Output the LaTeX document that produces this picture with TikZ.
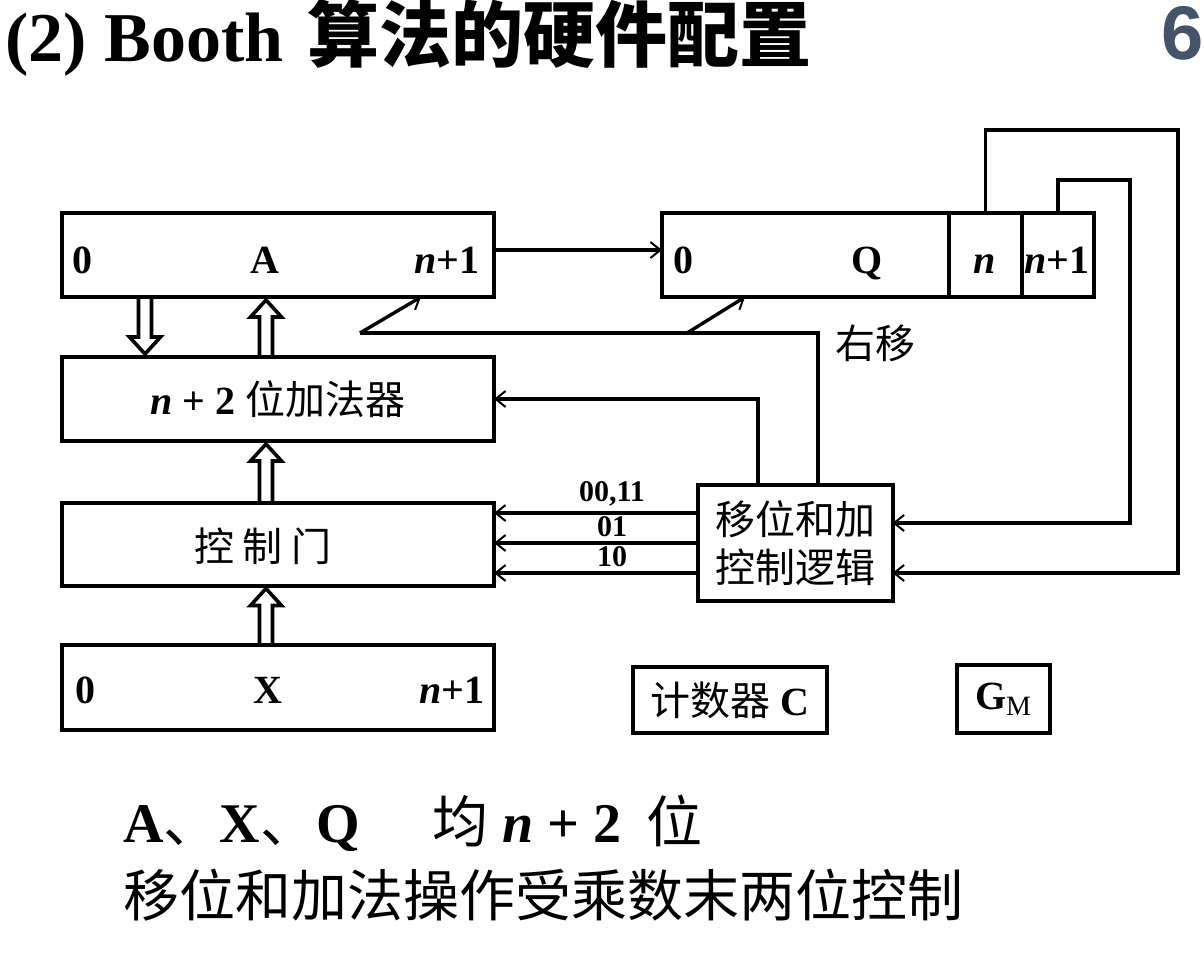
\documentclass[tikz,border=0pt]{standalone}
\usepackage{fontspec}
\setmainfont{Liberation Serif}
\newfontfamily\cjk{Noto Sans CJK SC}
\newfontfamily\slidenum{Liberation Sans}
\usetikzlibrary{arrows.meta,positioning,calc}
\definecolor{numblue}{RGB}{68,84,106}

\newcommand{\nn}{\textit{n}}
\newcommand{\zh}[1]{{\cjk\mdseries #1}}
% hollow bus arrow, vertical, from #1 to #2
\newcommand{\busarrow}[2]{%
  \draw[bus] let \p1=(#1), \p2=(#2), \n1={sign(\y2-\y1)} in
    (\x1-3.25pt,\y1) -- (\x1-3.25pt,{\y2-\n1*10pt}) -- (\x1-7.75pt,{\y2-\n1*10pt})
    -- (\x1,{\y2-\n1*1.5pt}) -- (\x1+7.75pt,{\y2-\n1*10pt}) -- (\x1+3.25pt,{\y2-\n1*10pt})
    -- (\x1+3.25pt,\y1);}

\begin{document}
\begin{tikzpicture}[x=0.5pt, y=-0.5pt,
  every node/.style={font=\fontsize{20}{24}\selectfont\bfseries, inner sep=0pt},
  reg/.style={draw, line width=2pt, inner sep=0pt, outer sep=0pt},
  conn/.style={line width=1.7pt, -{Straight Barb[length=5pt, width=8pt, line width=1pt]}},
  wire/.style={line width=1.7pt},
  bus/.style={line width=1.8pt, line join=miter},
  lab/.style={font=\fontsize{15}{17}\selectfont\bfseries}]
\useasboundingbox (0,0) rectangle (1204,955);

% title
\node[anchor=base west, font=\fontsize{35}{40}\selectfont\bfseries] (title) at (5,61) {(2) Booth\hspace{0.35em}{\cjk\fontsize{36}{40}\selectfont 算法的硬件配置}};
\node[anchor=base west, font=\slidenum\fontsize{38}{40}\selectfont\bfseries, text=numblue] (pagenum) at (1161,59) {6};

% registers
\node[reg, minimum width=216pt, minimum height=42pt] (A) at (278,255) {};
\node[anchor=base west] (Alo) at (72,273) {0};
\node[anchor=base] (Aname) at (265,273) {A};
\node[anchor=base east] (Ahi) at (480,273) {\nn+1};

\node[reg, minimum width=143.5pt, minimum height=42pt] (Qm) at (805.5,255) {};
\node[reg, minimum width=36.5pt, minimum height=42pt, right=0pt of Qm] (Qn) {};
\node[reg, minimum width=36pt, minimum height=42pt, right=0pt of Qn] (Qn1) {};
\node[anchor=base west] (Qlo) at (673,273) {0};
\node[anchor=base] (Qname) at (867,273) {Q};
\node[anchor=base] (Qnlab) at (985,273) {\nn};
\node[anchor=base] (Qn1lab) at (1057,273) {\nn+1};

\node[reg, minimum width=216pt, minimum height=42pt] (adder) at (278,399) {\nn\ + 2 \zh{位加法器}};

\node[reg, minimum width=216pt, minimum height=41.5pt] (gate) at (278,544) {};
\node (gatetext) at (263,546) {\zh{控 制 门}};

\node[reg, minimum width=216pt, minimum height=42.5pt] (X) at (278,687.5) {};
\node[anchor=base west] (Xlo) at (75,703) {0};
\node[anchor=base] (Xname) at (268,703) {X};
\node[anchor=base east] (Xhi) at (485,703) {\nn+1};

\node[reg, minimum width=97.5pt, minimum height=58pt, align=center] (logic) at (795,543) {\zh{移位和加}\\\zh{控制逻辑}};
\node[reg, minimum width=97pt, minimum height=33pt] (cnt) at (730,700) {\zh{计数器} C};
\node[reg, minimum width=46.5pt, minimum height=34pt] (gm) at (1003.5,699) {G{\mdseries\textsubscript{M}}};
\node (rshift) at (875,343) {\zh{右移}};

% turning points
\coordinate (tapA) at (758,0);
\coordinate (tapS) at (818,0);
\coordinate (shA) at (360,333);
\coordinate (shQ) at (687,333);
\coordinate (tipA) at (421,0);
\coordinate (tipQ) at (745,0);
\coordinate (loopN) at (1178,130);
\coordinate (loopN1) at (1130,180);
\coordinate (busL) at (145,0);
\coordinate (busM) at (266,0);

% connectors
\draw[conn] ([yshift=2.5pt]A.east) -- ([yshift=2.5pt]Qm.west);
\draw[conn] (logic.north -| tapA) |- (adder.east);
\draw[wire] (logic.north -| tapS) |- (shA);
\draw[conn] (shA) -- (A.south -| tipA);
\draw[conn] (shQ) -- (Qm.south -| tipQ);
\draw[conn] (Qn.north) |- (loopN) |- ([yshift=-15pt]logic.east);
\draw[conn] (Qn1.north) |- (loopN1) |- ([yshift=10pt]logic.east);

\draw[conn] ([yshift=15pt]logic.west) -- ([yshift=15pt]logic.west -| gate.east)
  node[pos=0.42, above=2.5pt, lab] (c1) {00,11};
\draw[conn] (logic.west) -- (logic.west -| gate.east)
  node[pos=0.42, above=2.5pt, lab] (c2) {01};
\draw[conn] ([yshift=-15pt]logic.west) -- ([yshift=-15pt]logic.west -| gate.east)
  node[pos=0.42, above=2.5pt, lab] (c3) {10};

% buses
\busarrow{A.south -| busL}{adder.north -| busL}
\busarrow{adder.north -| busM}{A.south -| busM}
\busarrow{gate.north -| busM}{adder.south -| busM}
\busarrow{X.north -| busM}{gate.south -| busM}

% notes
\node[anchor=base west, font=\fontsize{28}{34}\selectfont\bfseries] (note1) at (123,842)
  {A\zh{、}X\zh{、}Q\hspace{1.3em}\zh{均} \nn\ + 2\hspace{0.45em}\zh{位}};
\node[anchor=west, font=\fontsize{28}{34}\selectfont] (note2) at (123,895)
  {\cjk 移位和加法操作受乘数末两位控制};
\end{tikzpicture}
\end{document}
